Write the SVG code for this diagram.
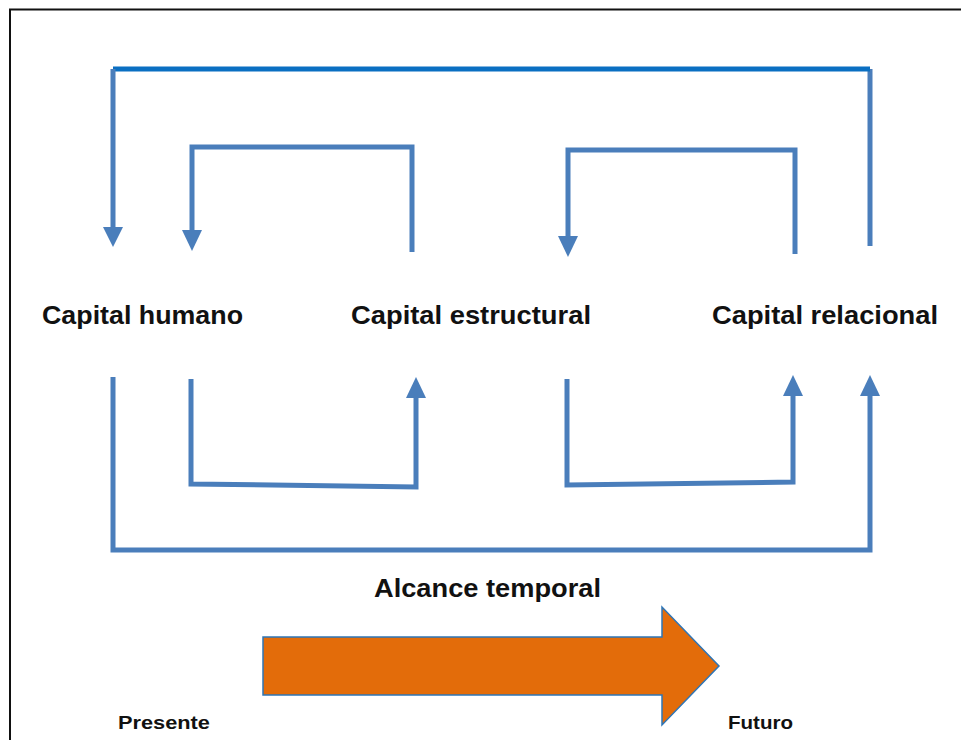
<svg xmlns="http://www.w3.org/2000/svg" width="961" height="740" viewBox="0 0 961 740">
  <defs>
    <style>
      .conn { fill: none; stroke: #4A7EBB; stroke-width: 5; stroke-linejoin: miter; }
      .top { stroke: #0A6FC2; }
      .head { fill: #4A7EBB; }
      .lbl { font-family: "Liberation Sans", Arial, sans-serif; font-weight: bold; fill: #111111; }
    </style>
  </defs>
  <rect x="0" y="0" width="961" height="740" fill="#ffffff"/>
  <path d="M10,740 V9.5 H961" fill="none" stroke="#111111" stroke-width="2"/>

  <g id="connectors">
    <!-- outer top loop: relacional -> humano -->
    <path class="conn" d="M870,246 V69"/>
    <path class="conn top" d="M870,69 H113"/>
    <path class="conn" d="M113,69 V228"/>
    <polygon class="head" points="103,227 123,227 113,247"/>
    <!-- estructural -> humano -->
    <path class="conn" d="M412,252 V147 H192 V230"/>
    <polygon class="head" points="182,230 202,230 192,251"/>
    <!-- relacional -> estructural -->
    <path class="conn" d="M795,254 V150 H568 V236"/>
    <polygon class="head" points="558,236 578,236 568,257"/>
    <!-- humano -> estructural -->
    <path class="conn" d="M191,379 V484 L416,487 V397"/>
    <polygon class="head" points="406,398 426,398 416,377"/>
    <!-- estructural -> relacional -->
    <path class="conn" d="M567,379 V485 L793,482 V395"/>
    <polygon class="head" points="783,396 803,396 793,375"/>
    <!-- outer bottom loop: humano -> relacional -->
    <path class="conn" d="M113,377 V550 H870 V395"/>
    <polygon class="head" points="860,396 880,396 870,375"/>
  </g>

  <g id="capital-humano">
    <text class="lbl" x="42" y="324" font-size="26" textLength="201" lengthAdjust="spacingAndGlyphs">Capital humano</text>
  </g>
  <g id="capital-estructural">
    <text class="lbl" x="351" y="324" font-size="26" textLength="240" lengthAdjust="spacingAndGlyphs">Capital estructural</text>
  </g>
  <g id="capital-relacional">
    <text class="lbl" x="712" y="324" font-size="26" textLength="226" lengthAdjust="spacingAndGlyphs">Capital relacional</text>
  </g>
  <g id="alcance-temporal">
    <text class="lbl" x="374" y="597" font-size="25" textLength="227" lengthAdjust="spacingAndGlyphs">Alcance temporal</text>
  </g>
  <g id="arrow-temporal">
    <polygon points="263,637 662,637 662,607 719,666 662,725 662,695 263,695" fill="#E36C0A" stroke="#2E75B6" stroke-width="1.5"/>
  </g>
  <g id="presente">
    <text class="lbl" x="118" y="729" font-size="19" textLength="92" lengthAdjust="spacingAndGlyphs">Presente</text>
  </g>
  <g id="futuro">
    <text class="lbl" x="728" y="729" font-size="19" textLength="65" lengthAdjust="spacingAndGlyphs">Futuro</text>
  </g>
</svg>
